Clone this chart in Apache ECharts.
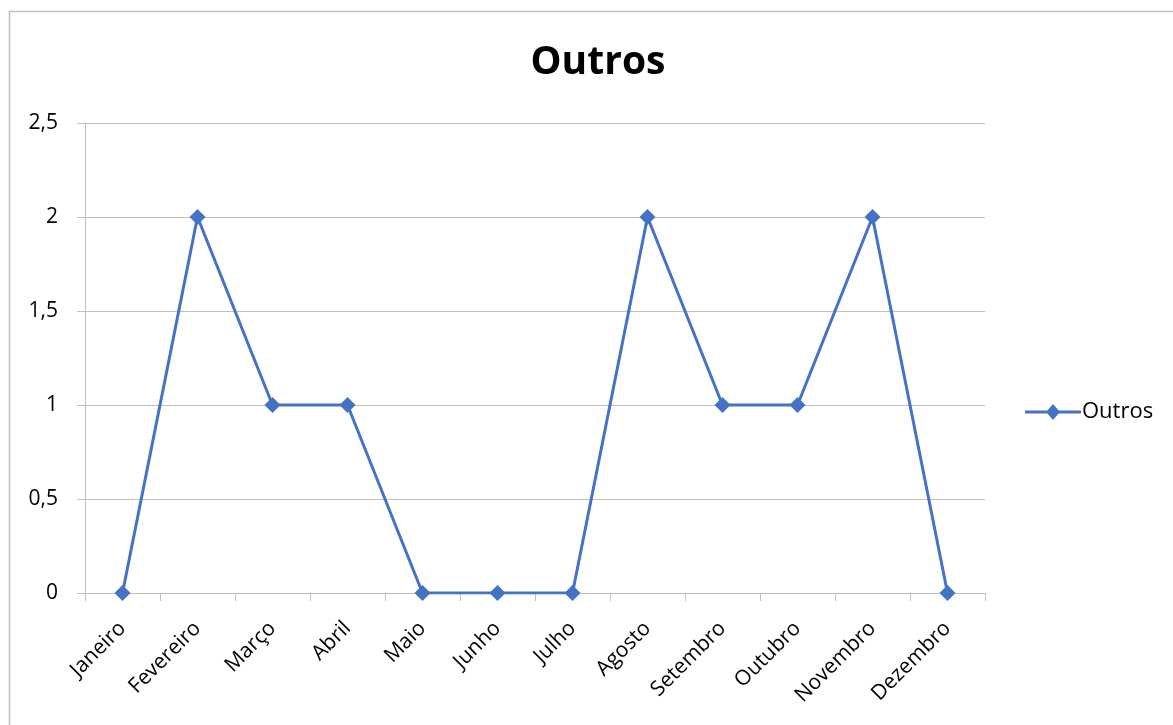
<!DOCTYPE html>
<html><head><meta charset="utf-8">
<script src="https://cdn.jsdelivr.net/npm/echarts@6/dist/echarts.min.js"></script>
<style>html,body{margin:0;padding:0;background:#fff}#c{width:1173px;height:725px}</style>
</head><body><div id="c"></div>
<script>
const categories = ['Janeiro','Fevereiro','Março','Abril','Maio','Junho','Julho','Agosto','Setembro','Outubro','Novembro','Dezembro'];
const outros = [0,2,1,1,0,0,0,2,1,1,2,0];
const seriesName = 'Outros';
const titleText = 'Outros';

const chart = echarts.init(document.getElementById('c'));
const font = '"Open Sans", "Liberation Sans", sans-serif';
chart.setOption({
  animation: false,
  backgroundColor: '#fff',
  graphic: [{type:'rect', shape:{x:9.5,y:11.5,width:1300,height:900}, style:{fill:'none',stroke:'#bfbfbf',lineWidth:1.5}, silent:true}],
  title: {text: titleText, left: 593, top: 38, textAlign:'center',
    textStyle:{fontFamily:font, fontSize:39, fontWeight:'bold', color:'#000'}},
  legend: {orient:'vertical', left: 1020, top: 396,
    itemWidth: 56, itemHeight: 16, itemGap: 5,
    icon: 'path://M0,6.5L56,6.5L56,9.5L0,9.5Z M21,8L28,0L35,8L28,16Z',
    itemStyle: {color:'#4472C4', borderWidth:0},
    textStyle:{fontFamily:font, fontSize:22, color:'#000', padding:[0,0,0,-4]},
    data:[seriesName]},
  grid: {left: 85, right: 188, top: 123, bottom: 132},
  xAxis: {type:'category', data: categories, boundaryGap: true,
    axisLine:{lineStyle:{color:'#bfbfbf', width:1}},
    axisTick:{show:true, length:8, lineStyle:{color:'#bfbfbf'}},
    axisLabel:{rotate:45, margin:32, interval:0, fontFamily:font, fontSize:21, color:'#000'}},
  yAxis: {type:'value', min:0, max:2.5, interval:0.5,
    axisLine:{show:true, lineStyle:{color:'#bfbfbf', width:1}},
    axisTick:{show:true, length:8, lineStyle:{color:'#bfbfbf'}},
    splitLine:{lineStyle:{color:'#bfbfbf', width:1}},
    axisLabel:{margin:27, fontFamily:font, fontSize:21, color:'#000',
      formatter: v => String(v).replace('.', ',')}},
  series: [{name: seriesName, type:'line', data: outros,
    symbol:'diamond', symbolSize:16,
    lineStyle:{color:'#4472C4', width:3},
    itemStyle:{color:'#4472C4'}}]
});
</script></body></html>
